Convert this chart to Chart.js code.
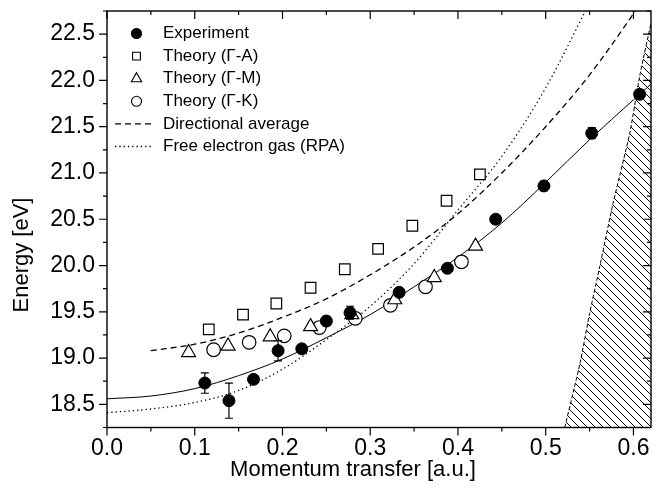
<!DOCTYPE html>
<html>
<head>
<meta charset="utf-8">
<script src="https://cdn.jsdelivr.net/npm/chart.js@4.4.0/dist/chart.umd.min.js"></script>
<style>
  html, body { margin: 0; padding: 0; background: #fff; overflow: hidden; }
</style>
</head>
<body>
<canvas id="chart" width="652" height="499"></canvas>
<script>
// Experiment (momentum transfer in a.u., energy in eV, error bar half-height)
const expQ = [0.1115, 0.139, 0.167, 0.195, 0.222, 0.250, 0.277, 0.333, 0.388, 0.443, 0.498, 0.5525, 0.607];
const expE = [18.73, 18.54, 18.77, 19.08, 19.10, 19.40, 19.49, 19.71, 19.97, 20.50, 20.86, 21.43, 21.85];
const expErr = [0.11, 0.19, 0.04, 0.11, 0.03, 0.05, 0.07, 0.04, 0.04, 0.03, 0.05, 0.06, 0.05];

// Theory along the three directions
const gaQ = [0.116, 0.155, 0.193, 0.232, 0.271, 0.309, 0.348, 0.387, 0.425];
const gaE = [19.31, 19.47, 19.59, 19.76, 19.96, 20.18, 20.43, 20.70, 20.985];
const gmQ = [0.093, 0.138, 0.186, 0.232, 0.279, 0.328, 0.373, 0.420];
const gmE = [19.06, 19.13, 19.23, 19.34, 19.47, 19.63, 19.87, 20.21];
const gkQ = [0.1215, 0.162, 0.202, 0.242, 0.283, 0.323, 0.363, 0.404];
const gkE = [19.09, 19.17, 19.24, 19.33, 19.43, 19.57, 19.77, 20.04];

// Curves
const fitQ = [0, 0.05, 0.1, 0.15, 0.2, 0.25, 0.3, 0.35, 0.4, 0.45, 0.5, 0.55, 0.6, 0.62];
const fitE = [18.56, 18.59, 18.67, 18.81, 18.99, 19.22, 19.47, 19.77, 20.09, 20.46, 20.90, 21.36, 21.79, 21.96];
const avgQ = [0.05, 0.1, 0.15, 0.2, 0.25, 0.3, 0.35, 0.4, 0.45, 0.5, 0.55, 0.6, 0.61];
const avgE = [19.08, 19.15, 19.27, 19.44, 19.64, 19.90, 20.20, 20.56, 21.00, 21.50, 22.06, 22.72, 22.86];
const rpaQ = [0, 0.05, 0.1, 0.15, 0.2, 0.25, 0.3, 0.35, 0.4, 0.45, 0.5, 0.55];
const rpaE = [18.41, 18.45, 18.52, 18.65, 18.88, 19.20, 19.56, 20.02, 20.60, 21.18, 21.92, 22.84];

// Edge of the hatched region
const hatchQ = [0.5217, 0.539, 0.550, 0.5616, 0.5767, 0.5958, 0.607, 0.62];
const hatchE = [18.25, 18.94, 19.48, 19.99, 20.67, 21.43, 22.04, 22.62];

// tick labels
const xTicks = [0.0, 0.1, 0.2, 0.3, 0.4, 0.5, 0.6];
const yTicks = [18.5, 19.0, 19.5, 20.0, 20.5, 21.0, 21.5, 22.0, 22.5];

const xTitle = 'Momentum transfer [a.u.]';
const yTitle = 'Energy [eV]';

function pts(xs, ys) {
    return xs.map((x, i) => ({ x: x, y: ys[i] }));
}

// diagonal hatch pattern
function hatchPattern() {
    const c = document.createElement('canvas');
    c.width = 8; c.height = 8;
    const g = c.getContext('2d');
    g.strokeStyle = '#000';
    g.lineWidth = 1;
    g.beginPath();
    g.moveTo(-1, -1); g.lineTo(9, 9);
    g.moveTo(-1, 7); g.lineTo(1, 9);
    g.moveTo(7, -1); g.lineTo(9, 1);
    g.stroke();
    return g.createPattern(c, 'repeat');
}

Chart.defaults.font.family = '"Liberation Sans", Arial, sans-serif';
Chart.defaults.color = '#000';

const datasets = [
    { label: 'Experiment', data: pts(expQ, expE), showLine: false,
      pointStyle: 'circle', pointRadius: 6, pointBackgroundColor: '#000', pointBorderColor: '#000', pointBorderWidth: 1 },
    { label: 'Theory (\u0393-A)', data: pts(gaQ, gaE), showLine: false,
      pointStyle: 'rect', pointRadius: 7.5, pointBackgroundColor: '#fff', pointBorderColor: '#000', pointBorderWidth: 1.2 },
    { label: 'Theory (\u0393-M)', data: pts(gmQ, gmE), showLine: false,
      pointStyle: 'triangle', pointRadius: 8, pointBackgroundColor: '#fff', pointBorderColor: '#000', pointBorderWidth: 1.2 },
    { label: 'Theory (\u0393-K)', data: pts(gkQ, gkE), showLine: false,
      pointStyle: 'circle', pointRadius: 6.8, pointBackgroundColor: '#fff', pointBorderColor: '#000', pointBorderWidth: 1.2 },
    { label: 'Directional average', data: pts(avgQ, avgE), showLine: true, pointRadius: 0,
      borderColor: '#000', borderWidth: 1.3, borderDash: [6, 4], cubicInterpolationMode: 'monotone' },
    { label: 'Free electron gas (RPA)', data: pts(rpaQ, rpaE), showLine: true, pointRadius: 0,
      borderColor: '#000', borderWidth: 1.3, borderDash: [1.3, 3], cubicInterpolationMode: 'monotone' },
    { label: 'fit', data: pts(fitQ, fitE), showLine: true, pointRadius: 0,
      borderColor: '#000', borderWidth: 1, cubicInterpolationMode: 'monotone' },
    { label: 'hatch', data: pts(hatchQ, hatchE), showLine: true, pointRadius: 0,
      borderColor: '#000', borderWidth: 1, borderDash: [4, 2], tension: 0.2,
      fill: 'start', backgroundColor: hatchPattern() }
];

// error bars, frame, minor ticks, axis titles, legend
const extras = {
    id: 'extras',
    afterDatasetsDraw(chart) {
        const { ctx, scales: { x, y } } = chart;
        ctx.save();
        ctx.strokeStyle = '#000';
        ctx.lineWidth = 1.2;
        expQ.forEach((q, i) => {
            const px = x.getPixelForValue(q);
            const top = y.getPixelForValue(expE[i] + expErr[i]);
            const bot = y.getPixelForValue(expE[i] - expErr[i]);
            ctx.beginPath();
            ctx.moveTo(px, top); ctx.lineTo(px, bot);
            ctx.moveTo(px - 4, top); ctx.lineTo(px + 4, top);
            ctx.moveTo(px - 4, bot); ctx.lineTo(px + 4, bot);
            ctx.stroke();
        });
        ctx.restore();
    },
    afterDraw(chart) {
        const { ctx, chartArea: a, scales: { x, y } } = chart;
        ctx.save();
        ctx.strokeStyle = '#000';
        ctx.lineWidth = 1.4;
        ctx.strokeRect(a.left, a.top, a.right - a.left, a.bottom - a.top);

        ctx.lineWidth = 1.2;
        ctx.beginPath();
        for (let i = 0; i <= 12; i++) {
            const px = x.getPixelForValue(i * 0.05);
            const len = i % 2 === 0 ? 8 : 4;
            ctx.moveTo(px, a.bottom); ctx.lineTo(px, a.bottom + len);
            ctx.moveTo(px, a.top); ctx.lineTo(px, a.top + len);
        }
        for (let i = 0; i <= 18; i++) {
            const py = y.getPixelForValue(18.25 + i * 0.25);
            const len = i % 2 === 1 ? 8 : 4;
            ctx.moveTo(a.left, py); ctx.lineTo(a.left - len, py);
            ctx.moveTo(a.right, py); ctx.lineTo(a.right - len, py);
        }
        ctx.stroke();

        // axis titles
        ctx.fillStyle = '#000';
        ctx.font = '22px "Liberation Sans", Arial, sans-serif';
        ctx.textAlign = 'center';
        ctx.textBaseline = 'middle';
        ctx.fillText(xTitle, 353, 470);
        ctx.save();
        ctx.translate(22, 255);
        ctx.rotate(-Math.PI / 2);
        ctx.fillText(yTitle, 0, 0);
        ctx.restore();

        // legend
        ctx.font = '17px "Liberation Sans", Arial, sans-serif';
        ctx.textAlign = 'left';
        const sizes = [5, 5.5, 6, 5];
        chart.data.datasets.slice(0, 6).forEach((ds, i) => {
            const ly = 33.5 + i * 22.6;
            if (i < 4) {
                ctx.fillStyle = ds.pointBackgroundColor;
                ctx.strokeStyle = '#000';
                ctx.lineWidth = 1.1;
                Chart.helpers.drawPoint(ctx, { pointStyle: ds.pointStyle, radius: sizes[i], borderWidth: 1.1, rotation: 0 }, 136.5, ly);
            } else {
                ctx.strokeStyle = '#000';
                ctx.lineWidth = ds.borderWidth;
                ctx.setLineDash(ds.borderDash);
                ctx.beginPath();
                ctx.moveTo(115, ly); ctx.lineTo(152, ly);
                ctx.stroke();
                ctx.setLineDash([]);
            }
            ctx.fillStyle = '#000';
            ctx.fillText(ds.label, 163, ly);
        });
        ctx.restore();
    }
};

new Chart(document.getElementById('chart'), {
    type: 'scatter',
    data: { datasets: datasets },
    options: {
        responsive: false,
        animation: false,
        devicePixelRatio: 1,
        layout: { autoPadding: false, padding: { top: 11, right: 1, left: 0, bottom: 0 } },
        plugins: { legend: { display: false }, tooltip: { enabled: false } },
        scales: {
            x: {
                type: 'linear', min: 0, max: 0.62,
                grid: { display: false, drawTicks: false },
                border: { display: false },
                ticks: { padding: 7, font: { size: 23 }, maxRotation: 0, callback: v => v.toFixed(1) },
                afterBuildTicks: s => { s.ticks = xTicks.map(v => ({ value: v })); },
                afterFit: s => { s.height = 71.5; s.paddingRight = 0; s.paddingLeft = 0; }
            },
            y: {
                type: 'linear', min: 18.25, max: 22.75,
                grid: { display: false, drawTicks: false },
                border: { display: false },
                ticks: { padding: 12, font: { size: 23 }, callback: v => v.toFixed(1) },
                afterBuildTicks: s => { s.ticks = yTicks.map(v => ({ value: v })); },
                afterFit: s => { s.width = 107; s.paddingTop = 0; s.paddingBottom = 0; }
            }
        }
    },
    plugins: [extras]
});
</script>
</body>
</html>
